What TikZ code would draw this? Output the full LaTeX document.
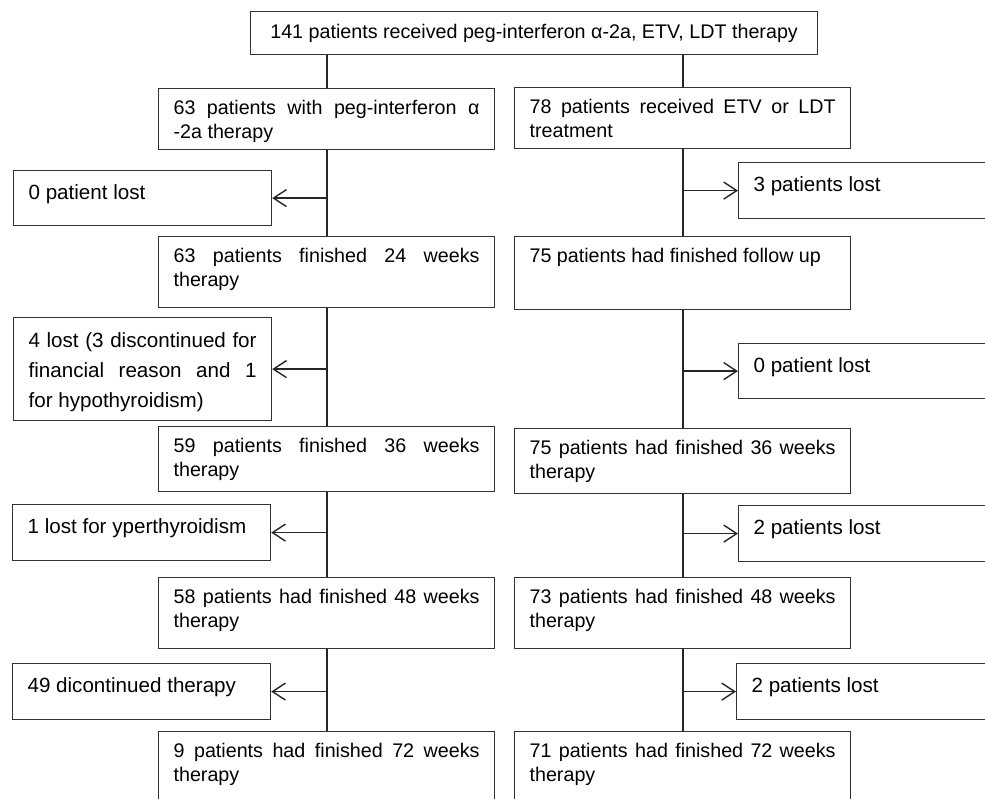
\documentclass[tikz,border=0pt]{standalone}
\usepackage{fontspec}
\setmainfont{Liberation Sans}
\usetikzlibrary{arrows.meta}
\sloppy
\hyphenpenalty=10000

\begin{document}
\begin{tikzpicture}[x=1pt, y=-1pt]
    % Define styles
    \tikzset{
        startbox/.style={draw=black!80, line width=1.2pt, anchor=north west, inner sep=0pt, minimum width=567pt, minimum height=43pt, font=\fontsize{19.7}{24}\selectfont},
        stagebox/.style={draw=black!80, line width=1.2pt, anchor=north west, inner xsep=15pt, inner ysep=0pt, text width=306pt, align=justify, text height=26pt, text depth=#1, font=\fontsize{19.7}{24}\selectfont},
        lostbox/.style={draw=black!80, line width=1.2pt, anchor=north west, inner xsep=15pt, inner ysep=0pt, text width=228pt, align=justify, text height=29pt, text depth=#1, font=\fontsize{20.6}{30}\selectfont},
        trunk/.style={draw=black!85, line width=2pt},
        lostarrow/.style={-{Straight Barb[length=13pt,width=17pt]}, draw=black!85, line width=1.4pt}
    }
    \useasboundingbox (0,0) rectangle (985,798);

    % Enrolment
    \node[startbox] (all) at (250,11) {141 patients received peg-interferon α-2a, ETV, LDT therapy};

    % Peg-interferon column
    \node[stagebox=35pt] (peg) at (158,88) {63 patients with peg-interferon α\linebreak -2a therapy};
    \node[stagebox=45pt] (peg24) at (158,236) {63 patients finished 24 weeks\linebreak therapy};
    \node[stagebox=39pt] (peg36) at (158,426) {59 patients finished 36 weeks\linebreak therapy};
    \node[stagebox=45pt] (peg48) at (158,577) {58 patients had finished 48 weeks\linebreak therapy};
    \node[stagebox=54pt] (peg72) at (158,731) {9 patients had finished 72 weeks\linebreak therapy};

    % ETV / LDT column
    \node[stagebox=35pt] (etv) at (514,87) {78 patients received ETV or LDT\linebreak treatment};
    \node[stagebox=47pt] (etvfu) at (514,236) {75 patients had finished follow up};
    \node[stagebox=39pt] (etv36) at (514,428) {75 patients had finished 36 weeks\linebreak therapy};
    \node[stagebox=45pt] (etv48) at (514,577) {73 patients had finished 48 weeks\linebreak therapy};
    \node[stagebox=54pt] (etv72) at (514,731) {71 patients had finished 72 weeks\linebreak therapy};

    % Losses, left
    \node[lostbox=26pt] (lostA) at (13,170) {0 patient lost};
    \node[lostbox=73pt, text height=30pt] (lostC) at (13,317) {4 lost (3 discontinued for\linebreak financial reason and 1\linebreak for hypothyroidism)};
    \node[lostbox=27pt] (lostE) at (12,504) {1 lost for yperthyroidism};
    \node[lostbox=27pt] (lostG) at (12,663) {49 dicontinued therapy};

    % Losses, right
    \node[lostbox=27pt] (lostB) at (738,162) {3 patients lost};
    \node[lostbox=26pt] (lostD) at (738,343) {0 patient lost};
    \node[lostbox=27pt] (lostF) at (738,505) {2 patients lost};
    \node[lostbox=27pt] (lostH) at (736,663) {2 patients lost};

    % Trunk lines
    \draw[trunk] (peg.north) -- (peg.north |- all.south);
    \draw[trunk] (etv.north) -- (etv.north |- all.south);
    \draw[trunk] (peg.south) -- (peg24.north);
    \draw[trunk] (peg24.south) -- (peg36.north);
    \draw[trunk] (peg36.south) -- (peg48.north);
    \draw[trunk] (peg48.south) -- (peg72.north);
    \draw[trunk] (etv.south) -- (etvfu.north);
    \draw[trunk] (etvfu.south) -- (etv36.north);
    \draw[trunk] (etv36.south) -- (etv48.north);
    \draw[trunk] (etv48.south) -- (etv72.north);

    % Arrows to losses
    \draw[lostarrow] (peg.south |- lostA.east) -- (lostA.east);
    \draw[lostarrow] (peg24.south |- lostC.east) -- (lostC.east);
    \draw[lostarrow] (peg36.south |- lostE.east) -- (lostE.east);
    \draw[lostarrow] (peg48.south |- lostG.east) -- (lostG.east);
    \draw[lostarrow] (etv.south |- lostB.west) -- (lostB.west);
    \draw[lostarrow] (etvfu.south |- lostD.west) -- (lostD.west);
    \draw[lostarrow] (etv36.south |- lostF.west) -- (lostF.west);
    \draw[lostarrow] (etv48.south |- lostH.west) -- (lostH.west);

\end{tikzpicture}
\end{document}
